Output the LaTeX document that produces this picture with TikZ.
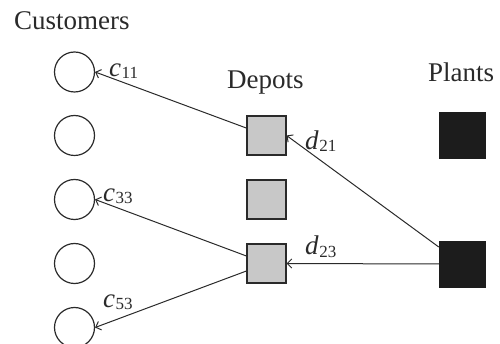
\documentclass[tikz,border=0pt]{standalone}
\usepackage{fontspec}
\setmainfont{Liberation Serif}
\usetikzlibrary{arrows.meta}
\definecolor{ink}{HTML}{2A2A2A}
\definecolor{depotfill}{HTML}{C8C8C8}
\definecolor{plantfill}{HTML}{1C1C1C}
\newcommand\bigtxt{\fontsize{27}{30}\selectfont}
\newcommand\subtxt{\fontsize{17}{18}\selectfont}
\newcommand\cost[2]{\textit{#1}\kern0.5pt\raisebox{-2pt}{\subtxt #2}}
\tikzset{
  customer/.style={circle, draw=ink, line width=1.2pt, minimum size=40pt, inner sep=0pt},
  depot/.style={rectangle, draw=ink, line width=1.1pt, fill=depotfill, minimum size=39pt, inner sep=0pt},
  plant/.style={rectangle, draw=plantfill, fill=plantfill, minimum size=46pt, inner sep=0pt},
  heading/.style={anchor=base west, inner sep=0pt, text=ink, font=\bigtxt},
  costlabel/.style={anchor=base west, inner sep=0pt, text=ink, font=\bigtxt},
  flow/.style={draw=ink, line width=1pt, -{Straight Barb[length=4.5pt,width=9pt]}}
}
\begin{document}
\begin{tikzpicture}[x=1pt,y=-1pt]
  \useasboundingbox (0,0) rectangle (500,344);

  % column headings
  \node[heading] (hc) at (14,29.5) {Customers};
  \node[heading] (hd) at (227,89) {Depots};
  \node[heading] (hp) at (428,82) {Plants};

  % customers
  \node[customer] (c1) at (74.5,72) {};
  \node[customer] (c2) at (74.5,135.5) {};
  \node[customer] (c3) at (74.5,199.5) {};
  \node[customer] (c4) at (74.5,263.5) {};
  \node[customer] (c5) at (74.5,327.5) {};

  % depots
  \node[depot] (d1) at (266.5,135.5) {};
  \node[depot] (d2) at (266.5,199.5) {};
  \node[depot] (d3) at (266.5,263.5) {};

  % plants
  \node[plant] (p1) at (462,135.5) {};
  \node[plant] (p2) at (462,264) {};

  % flows
  \draw[flow] (d1) -- (c1.east);
  \draw[flow] (d3) -- (c3.east);
  \draw[flow] (d3) -- (c5.east);
  \draw[flow] (p2) -- (d1.east);
  \draw[flow] (p2.west) -- (d3.east);

  % cost labels
  \node[costlabel] (l11) at (109,77) {\cost{c}{11}};
  \node[costlabel] (l33) at (103,202) {\cost{c}{33}};
  \node[costlabel] (l53) at (103,307) {\cost{c}{53}};
  \node[costlabel] (l21) at (305,150) {\cost{d}{21}};
  \node[costlabel] (l23) at (305,255) {\cost{d}{23}};
\end{tikzpicture}
\end{document}
